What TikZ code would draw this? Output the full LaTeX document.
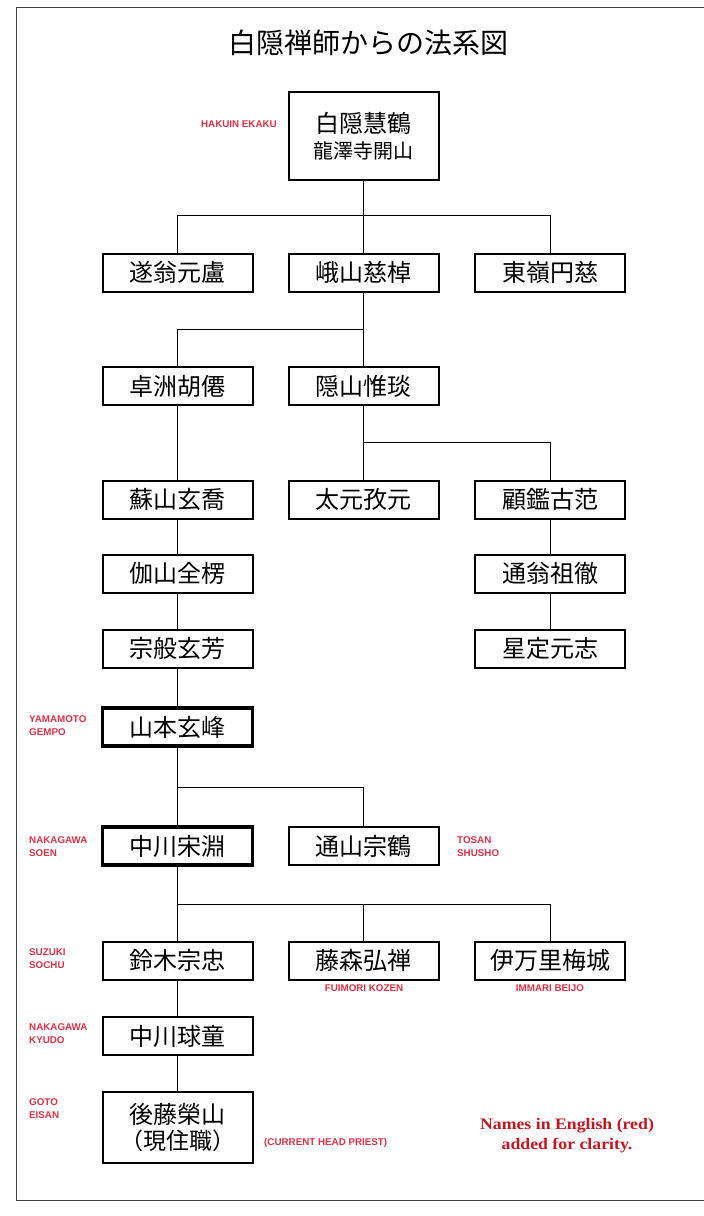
\documentclass[tikz,border=0pt]{standalone}
\usepackage{fontspec}
\setmainfont{Liberation Serif}
\newfontfamily\cjk{Noto Sans CJK JP}
\newfontfamily\lab{Liberation Sans}
\newfontfamily\notefont[FakeStretch=1.11]{Liberation Serif}
\definecolor{labred}{RGB}{218,50,72}
\definecolor{notered}{RGB}{196,22,34}
\begin{document}
\begin{tikzpicture}[x=1pt,y=-1pt,
  person/.style={draw=black, line width=2pt, minimum width=150pt, minimum height=38pt,
    inner sep=0pt, align=center, font=\cjk\fontsize{24}{26}\selectfont},
  heavy/.style={person, line width=3.8pt},
  link/.style={line width=1pt},
  ename/.style={text=labred, font=\lab\bfseries\fontsize{9.8}{13}\selectfont, align=left, inner sep=0pt},
  frameline/.style={line width=1pt, black!75},
]
\useasboundingbox (0,0) rectangle (704,1216);
\fill[white] (0,0) rectangle (704,1216);
\draw[frameline] (704,7) -- (16,7) -- (16,1200) -- (704,1200);

% title
\node[font=\cjk\fontsize{28}{30}\selectfont, inner sep=0pt] (title) at (368,43) {白隠禅師からの法系図};

% people
\node[person, minimum width=150pt, minimum height=88pt] (hakuin) at (363.5,136)
  {白隠慧鶴\\{\fontsize{20}{26}\selectfont 龍澤寺開山}};
\node[person] (suio)   at (177.5,272.5) {遂翁元盧};
\node[person] (gasan)  at (363.5,272.5) {峨山慈棹};
\node[person] (torei)  at (550,272.5)   {東嶺円慈};
\node[person] (takuju) at (177.5,386)   {卓洲胡僊};
\node[person] (inzan)  at (363.5,386)   {隠山惟琰};
\node[person] (sozan)  at (177.5,499.5) {蘇山玄喬};
\node[person] (taigen) at (363.5,499.5) {太元孜元};
\node[person] (kokan)  at (550,499.5)   {顧鑑古范};
\node[person] (kasan)  at (177.5,573.5) {伽山全楞};
\node[person] (tsuo)   at (550,573.5)   {通翁祖徹};
\node[person] (sohan)  at (177.5,648.5) {宗般玄芳};
\node[person] (seijo)  at (550,648.5)   {星定元志};
\node[heavy]  (gempo)  at (177.5,727)   {山本玄峰};
\node[heavy]  (soen)   at (177.5,846)   {中川宋淵};
\node[person] (tosan)  at (363.5,846)   {通山宗鶴};
\node[person] (suzuki) at (177.5,960.5) {鈴木宗忠};
\node[person] (fujimori) at (363.5,960.5) {藤森弘禅};
\node[person] (imari)  at (550,960.5)   {伊万里梅城};
\node[person] (kyudo)  at (177.5,1036)  {中川球童};
\node[person, minimum height=71pt] (eisan) at (177.5,1127.5)
  {後藤榮山\\{\fontsize{23}{26}\selectfont （現住職）}};

% junctions
\coordinate (j1) at (363.5,215);
\coordinate (j2) at (363.5,329);
\coordinate (j3) at (363.5,442);
\coordinate (j4) at (177.5,787);
\coordinate (j5) at (177.5,904);

% connectors
\draw[link] (hakuin.south) -- (j1);
\draw[link] (j1) -| (suio.north);
\draw[link] (j1) -| (torei.north);
\draw[link] (j1) -- (gasan.north);
\draw[link] (gasan.south) -- (j2);
\draw[link] (j2) -| (takuju.north);
\draw[link] (j2) -- (inzan.north);
\draw[link] (takuju.south) -- (sozan.north);
\draw[link] (inzan.south) -- (j3);
\draw[link] (j3) -- (taigen.north);
\draw[link] (j3) -| (kokan.north);
\draw[link] (sozan.south) -- (kasan.north);
\draw[link] (kasan.south) -- (sohan.north);
\draw[link] (sohan.south) -- (gempo.north);
\draw[link] (kokan.south) -- (tsuo.north);
\draw[link] (tsuo.south) -- (seijo.north);
\draw[link] (gempo.south) -- (j4);
\draw[link] (j4) -- (soen.north);
\draw[link] (j4) -| (tosan.north);
\draw[link] (soen.south) -- (j5);
\draw[link] (j5) -- (suzuki.north);
\draw[link] (j5) -| (fujimori.north);
\draw[link] (j5) -| (imari.north);
\draw[link] (suzuki.south) -- (kyudo.north);
\draw[link] (kyudo.south) -- (eisan.north);

% English names
\node[ename, anchor=east] (eHakuin) at (277,124) {HAKUIN EKAKU};
\node[ename, anchor=west] (eGempo) at (29,726) {YAMAMOTO\\GEMPO};
\node[ename, anchor=west] (eSoen) at (29,847) {NAKAGAWA\\SOEN};
\node[ename, anchor=west] (eTosan) at (457,847) {TOSAN\\SHUSHO};
\node[ename, anchor=west] (eSuzuki) at (29,959) {SUZUKI\\SOCHU};
\node[ename, anchor=center] (eFujimori) at (364,988) {FUIMORI KOZEN};
\node[ename, anchor=center] (eImari) at (550,988) {IMMARI BEIJO};
\node[ename, anchor=west] (eKyudo) at (29,1034) {NAKAGAWA\\KYUDO};
\node[ename, anchor=west] (eEisan) at (29,1109) {GOTO\\EISAN};
\node[ename, anchor=west] (eCurrent) at (264,1143) {(CURRENT HEAD PRIEST)};

\node[text=notered, font=\notefont\bfseries\fontsize{16}{20}\selectfont, align=center, inner sep=0pt]
  (note) at (567,1136) {Names in English (red)\\added for clarity.};
\end{tikzpicture}
\end{document}
